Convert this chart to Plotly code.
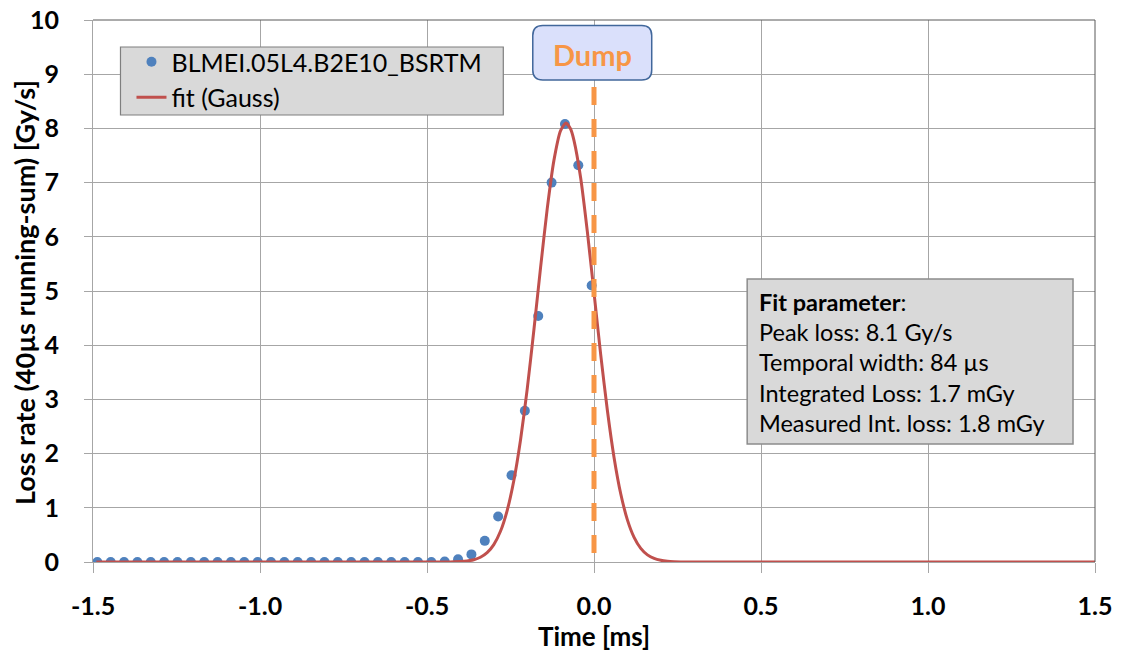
import plotly.graph_objects as go

# ---------------- data ----------------
time_ms = [-1.487, -1.447, -1.407, -1.367, -1.327, -1.287, -1.247, -1.207, -1.167, -1.127,
           -1.087, -1.047, -1.007, -0.967, -0.927, -0.887, -0.847, -0.807, -0.767, -0.727,
           -0.687, -0.647, -0.607, -0.567, -0.527, -0.487, -0.447, -0.407, -0.367, -0.327,
           -0.287, -0.247, -0.207, -0.167, -0.127, -0.087, -0.047, -0.007]
loss_rate = [0.0, 0.0, 0.0, 0.0, 0.0, 0.0, 0.0, 0.0, 0.0, 0.0,
             0.0, 0.0, 0.0, 0.0, 0.0, 0.0, 0.0, 0.0, 0.0, 0.0,
             0.0, 0.0, 0.0, 0.0, 0.0, 0.0, 0.01, 0.05, 0.14, 0.39,
             0.84, 1.60, 2.79, 4.54, 7.00, 8.08, 7.32, 5.10]

fit_time = [-1.49, -0.50, -0.48, -0.46, -0.44, -0.42, -0.40, -0.38, -0.36, -0.34,
            -0.32, -0.30, -0.28, -0.26, -0.24, -0.22, -0.20, -0.18, -0.16, -0.14,
            -0.12, -0.10, -0.084, -0.07, -0.06, -0.04, -0.02, 0.00, 0.02, 0.04,
            0.06, 0.08, 0.10, 0.12, 0.14, 0.16, 0.18, 0.20, 0.22, 0.24,
            0.26, 0.28, 0.30, 1.50]
fit_loss = [0.0, 0.0001, 0.0002, 0.0005, 0.0013, 0.0033, 0.008, 0.019, 0.042, 0.087,
            0.172, 0.321, 0.567, 0.949, 1.503, 2.252, 3.19, 4.28, 5.43, 6.52,
            7.41, 7.96, 8.10, 7.99, 7.78, 7.09, 6.10, 4.97, 3.83, 2.80,
            1.93, 1.26, 0.778, 0.455, 0.252, 0.132, 0.065, 0.031, 0.0135, 0.0057,
            0.0022, 0.0008, 0.0003, 0.0]

x_tickvals = [-1.5, -1.0, -0.5, 0.0, 0.5, 1.0, 1.5]
x_ticktext = ["-1.5", "-1.0", "-0.5", "0.0", "0.5", "1.0", "1.5"]
y_tickvals = [0, 1, 2, 3, 4, 5, 6, 7, 8, 9, 10]

series_name = "BLMEI.05L4.B2E10_BSRTM"
fit_name = "fit (Gauss)"
x_title = "Time [ms]"
y_title = "Loss rate (40µs running-sum) [Gy/s]"
dump_time = 0.0
dump_label = "Dump"
fit_lines = ["<b>Fit parameter</b>:",
             "Peak loss: 8.1 Gy/s",
             "Temporal width: 84 µs",
             "Integrated Loss: 1.7 mGy",
             "Measured Int. loss: 1.8 mGy"]

# ---------------- layout geometry (pixels) ----------------
W, H = 1124, 655
PL, PR, PT, PB = 92.5, 1095.0, 20.0, 562.0   # plot area in px


def px_x(px):
    return (px - PL) / (PR - PL)


def px_y(py):
    return (PB - py) / (PB - PT)


def rounded_rect(x0, y0, x1, y1, r):
    # pixel coords -> paper path with rounded corners
    rx = r / (PR - PL)
    ry = r / (PB - PT)
    a, b = px_x(x0), px_x(x1)
    top, bot = px_y(y0), px_y(y1)
    return (f"M {a + rx},{top} L {b - rx},{top} Q {b},{top} {b},{top - ry} "
            f"L {b},{bot + ry} Q {b},{bot} {b - rx},{bot} "
            f"L {a + rx},{bot} Q {a},{bot} {a},{bot + ry} "
            f"L {a},{top - ry} Q {a},{top} {a + rx},{top} Z")


FONT = "Lato, 'Open Sans', sans-serif"

fig = go.Figure()
fig.add_trace(go.Scatter(
    x=time_ms, y=loss_rate, mode="markers", name=series_name,
    marker=dict(color="#4f81bd", size=10),
))
fig.add_trace(go.Scatter(
    x=fit_time, y=fit_loss, mode="lines", name=fit_name,
    line=dict(color="#c0504d", width=3, shape="spline", smoothing=0.6),
))

grid = "#a6a6a6"
fig.update_layout(
    width=W, height=H,
    margin=dict(l=PL, r=W - PR, t=PT, b=H - PB, pad=0),
    plot_bgcolor="white", paper_bgcolor="white",
    font=dict(family=FONT, color="black"),
    xaxis=dict(
        range=[-1.5, 1.5], tickvals=x_tickvals, ticktext=x_ticktext,
        showgrid=True, gridcolor=grid, gridwidth=1,
        showline=True, linecolor=grid, linewidth=1,
        ticks="outside", ticklen=10, tickcolor=grid, tickwidth=1,
        tickfont=dict(size=25, weight="bold", color="black"),
        ticklabelstandoff=12,
        zeroline=False, automargin=False,
        title=dict(text=x_title, font=dict(size=26, weight="bold"), standoff=8),
    ),
    yaxis=dict(
        range=[0, 10], tickvals=y_tickvals,
        showgrid=True, gridcolor=grid, gridwidth=1,
        showline=True, linecolor=grid, linewidth=1,
        ticks="outside", ticklen=8, tickcolor=grid, tickwidth=1,
        tickfont=dict(size=25, weight="bold", color="black"),
        ticklabelstandoff=20,
        zeroline=False, automargin=False,
    ),
    legend=dict(
        x=px_x(131), y=px_y(39), xanchor="left", yanchor="top",
        bgcolor="rgba(0,0,0,0)", borderwidth=0,
        font=dict(size=25, color="black"), tracegroupgap=0,
    ),
    showlegend=True,
)

shapes = [
    # top & right plot border
    dict(type="line", xref="paper", yref="paper", x0=0, x1=1, y0=1, y1=1,
         line=dict(color="#595959", width=1), layer="above"),
    dict(type="line", xref="paper", yref="paper", x0=1, x1=1, y0=0, y1=1,
         line=dict(color="#595959", width=1), layer="above"),
    # legend box
    dict(type="rect", xref="paper", yref="paper",
         x0=px_x(120), x1=px_x(503), y0=px_y(115), y1=px_y(47),
         fillcolor="#d9d9d9", line=dict(color="#7f7f7f", width=1.2), layer="above"),
    # fit parameter box
    dict(type="rect", xref="paper", yref="paper",
         x0=px_x(747), x1=px_x(1073), y0=px_y(444), y1=px_y(279),
         fillcolor="#d9d9d9", line=dict(color="#8c8c8c", width=1.5), layer="above"),
    # dump dashed line
    dict(type="line", xref="x", yref="paper", x0=dump_time, x1=dump_time,
         y0=px_y(553), y1=px_y(80),
         line=dict(color="#f79646", width=5, dash="18px,14px"), layer="above"),
    # dump label box
    dict(type="path", xref="paper", yref="paper",
         path=rounded_rect(532.5, 25.5, 651.5, 80, 10),
         fillcolor="#dae0fb", line=dict(color="#41679b", width=1.5), layer="above"),
]
fig.update_layout(shapes=shapes)

annotations = [
    dict(xref="paper", yref="paper", x=px_x(592), y=px_y(54),
         text=f"<b>{dump_label}</b>", showarrow=False,
         font=dict(size=29, color="#f79646", family=FONT),
         xanchor="center", yanchor="middle"),
    dict(xref="paper", yref="paper", x=px_x(24), y=px_y(292.5),
         text=f"<b>{y_title}</b>", showarrow=False, textangle=-90,
         font=dict(size=27, color="black", family=FONT),
         xanchor="center", yanchor="middle"),
]
line_y = [301.7, 331.7, 362.3, 392.7, 423.3]
for txt, yy in zip(fit_lines, line_y):
    annotations.append(dict(
        xref="paper", yref="paper", x=px_x(757), y=px_y(yy),
        text=txt, showarrow=False, xanchor="left", yanchor="middle",
        font=dict(size=23.5, color="black", family=FONT)))
fig.update_layout(annotations=annotations)

fig.write_html("out.html")
